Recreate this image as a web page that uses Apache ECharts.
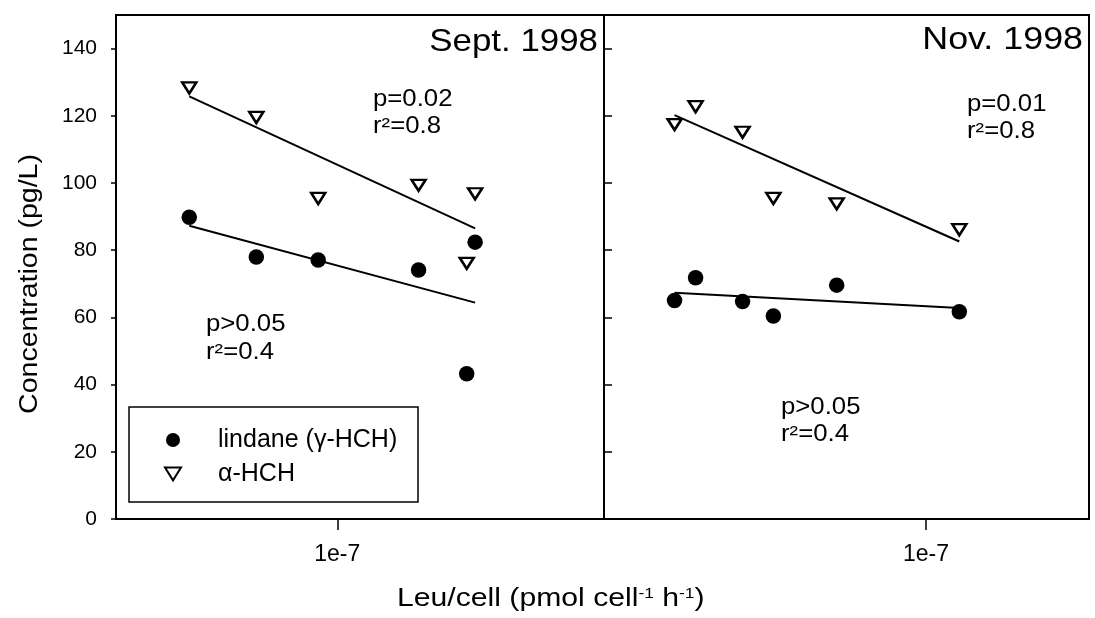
<!DOCTYPE html>
<html>
<head>
<meta charset="utf-8">
<script src="https://cdn.jsdelivr.net/npm/echarts@6/dist/echarts.min.js"></script>
<style>
  html, body { margin: 0; padding: 0; background: #fff; }
  #chart { width: 1095px; height: 618px; }
</style>
</head>
<body>
<div id="chart"></div>
<script>
const FONT = '"Liberation Sans", Arial, Helvetica, sans-serif';

// Leucine incorporation per cell (pmol cell^-1 h^-1) and HCH concentrations (pg/L)
const sepLeu      = [6.29e-8, 7.76e-8, 9.42e-8, 1.29e-7, 1.50e-7, 1.54e-7];
const sepLindane  = [89.8, 78.0, 77.1, 74.1, 43.2, 82.4];
const sepAlpha    = [128.3, 119.5, 95.4, 99.3, 76.1, 96.8];

const novLeu      = [4.55e-8, 4.86e-8, 5.63e-8, 6.20e-8, 7.56e-8, 1.11e-7];
const novLindane  = [65.0, 71.8, 64.7, 60.4, 69.6, 61.7];
const novAlpha    = [117.4, 122.7, 115.1, 95.4, 93.8, 86.1];

// Regression lines: concentration at the lowest and highest Leu/cell of each month
const sepLindaneFit = [87.3, 64.4];
const sepAlphaFit   = [125.8, 86.5];
const novLindaneFit = [67.3, 62.8];
const novAlphaFit   = [120.2, 82.6];

// Axis ticks
const yTicks = [0, 20, 40, 60, 80, 100, 120, 140];
const xTicks = [1e-7];
const xTickLabels = ['1e-7'];

const LINDANE = 'lindane (γ-HCH)';
const ALPHA = 'α-HCH';
const TRIANGLE = 'path://M0,0L20,0L10,16Z';

const zip = (xs, ys) => xs.map((x, i) => [x, ys[i]]);
const fitLine = (xs, ends) => [[Math.min(...xs), ends[0]], [Math.max(...xs), ends[1]]];

function scatterPair(idx, leu, lindane, alpha) {
  return [
    {
      type: 'scatter', name: LINDANE, xAxisIndex: idx, yAxisIndex: idx, z: 3,
      data: zip(leu, lindane), symbol: 'circle', symbolSize: 15.5,
      itemStyle: { color: '#000', opacity: 1 }
    },
    {
      type: 'scatter', name: ALPHA, xAxisIndex: idx, yAxisIndex: idx, z: 3,
      data: zip(leu, alpha), symbol: TRIANGLE, symbolSize: [14, 11],
      itemStyle: { color: '#fff', borderColor: '#000', borderWidth: 2.5, opacity: 1 }
    }
  ];
}
function fit(idx, leu, ends) {
  return {
    type: 'line', xAxisIndex: idx, yAxisIndex: idx, z: 2, silent: true,
    data: fitLine(leu, ends), symbol: 'none',
    lineStyle: { color: '#000', width: 2 }
  };
}

function xAxisFor(idx, min, max) {
  return {
    type: 'log', logBase: 10, gridIndex: idx, min: min, max: max,
    axisLine: { show: false }, splitLine: { show: false },
    axisTick: { show: true, customValues: xTicks, length: 11, lineStyle: { color: '#000', width: 1.5 } },
    axisLabel: {
      customValues: xTicks, margin: 24, fontSize: 23, color: '#000', fontFamily: FONT,
      formatter: v => {
        const i = xTicks.findIndex(t => Math.abs(t - v) / t < 1e-6);
        return i >= 0 ? xTickLabels[i] : '';
      }
    }
  };
}

// plain text placed on the canvas, stretched a little horizontally
function txt(text, x, y, size, align, sx) {
  return {
    type: 'text', x: x, y: y, scaleX: sx || 1.12, silent: true,
    style: { text: text, fontSize: size, fontFamily: FONT, fill: '#000',
             align: align || 'left', verticalAlign: 'middle' }
  };
}

const chart = echarts.init(document.getElementById('chart'), null, { renderer: 'canvas' });
chart.setOption({
  animation: false,
  backgroundColor: '#fff',
  grid: [
    { left: 116, top: 15, width: 488, height: 504, show: true, borderColor: '#000', borderWidth: 2,
      backgroundColor: 'transparent', containLabel: false, outerBoundsMode: 'none' },
    { left: 604, top: 15, width: 485, height: 504, show: true, borderColor: '#000', borderWidth: 2,
      backgroundColor: 'transparent', containLabel: false, outerBoundsMode: 'none' }
  ],
  xAxis: [
    xAxisFor(0, 5e-8, 2.306e-7),
    xAxisFor(1, 3.648e-8, 1.666e-7)
  ],
  yAxis: [
    {
      type: 'value', gridIndex: 0, min: 0, max: 150,
      axisLine: { show: false }, splitLine: { show: false },
      axisTick: { show: true, customValues: yTicks, length: 5, lineStyle: { color: '#000', width: 1.5 } },
      axisLabel: { customValues: yTicks, margin: 19, fontSize: 21, color: '#000', fontFamily: FONT }
    },
    {
      type: 'value', gridIndex: 1, min: 0, max: 150,
      axisLine: { show: false }, splitLine: { show: false },
      axisTick: { show: true, inside: true, customValues: yTicks, length: 8, lineStyle: { color: '#000', width: 1.5 } },
      axisLabel: { show: false }
    }
  ],
  legend: {
    data: [LINDANE, ALPHA], orient: 'vertical', left: 164, top: 427,
    itemWidth: 16, itemHeight: 14, itemGap: 8, padding: 0, selectedMode: false,
    formatter: name => '{g|}{n|' + name + '}',
    textStyle: {
      color: '#000', fontFamily: FONT, fontSize: 25, lineHeight: 26,
      rich: {
        g: { width: 32 },
        n: { fontSize: 25, lineHeight: 26, color: '#000', fontFamily: FONT }
      }
    }
  },
  series: [
    fit(0, sepLeu, sepLindaneFit),
    fit(0, sepLeu, sepAlphaFit),
    fit(1, novLeu, novLindaneFit),
    fit(1, novLeu, novAlphaFit),
    ...scatterPair(0, sepLeu, sepLindane, sepAlpha),
    ...scatterPair(1, novLeu, novLindane, novAlpha)
  ],
  graphic: [
    // legend frame
    { type: 'rect', silent: true, shape: { x: 129, y: 407, width: 289, height: 95 },
      style: { fill: 'none', stroke: '#000', lineWidth: 1.5 } },
    // panel titles
    txt('Sept. 1998', 598, 42, 32, 'right', 1.09),
    txt('Nov. 1998', 1083, 40, 32, 'right', 1.12),
    // regression statistics
    txt('p=0.02', 373, 100, 23),
    txt('r²=0.8', 373, 127, 23),
    txt('p>0.05', 206, 325, 23),
    txt('r²=0.4', 206, 353, 23),
    txt('p=0.01', 967, 105, 23),
    txt('r²=0.8', 967, 132, 23),
    txt('p>0.05', 781, 408, 23),
    txt('r²=0.4', 781, 435, 23),
    // axis titles
    {
      type: 'text', x: 30, y: 284, rotation: Math.PI / 2, scaleX: 1.14, silent: true,
      style: { text: 'Concentration (pg/L)', fontSize: 25, fontFamily: FONT, fill: '#000',
               align: 'center', verticalAlign: 'middle' }
    },
    {
      type: 'text', x: 397, y: 599, scaleX: 1.16, silent: true,
      style: {
        text: '{t|Leu/cell (pmol cell}{s|-1}{t| h}{s|-1}{t|)}',
        align: 'left', verticalAlign: 'middle',
        rich: {
          t: { fontSize: 26, fontFamily: FONT, fill: '#000' },
          s: { fontSize: 15, fontFamily: FONT, fill: '#000', verticalAlign: 'top' }
        }
      }
    }
  ]
});
</script>
</body>
</html>
